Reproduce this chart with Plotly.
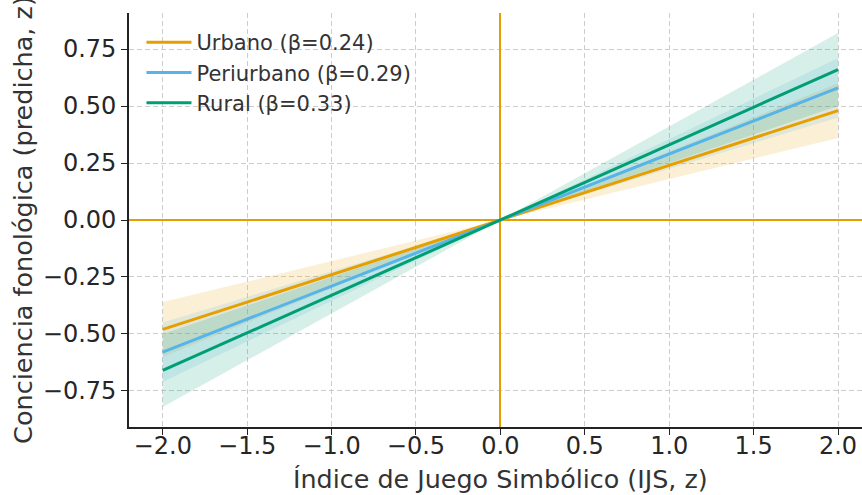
import plotly.graph_objects as go

# Data (predicted values at x = -2, 0, 2)
x_pts = [-2.0, 0.0, 2.0]
groups = ["Urbano (β=0.24)", "Periurbano (β=0.29)", "Rural (β=0.33)"]
urbano_pred = [-0.48, 0.0, 0.48]
urbano_lo = [-0.60, 0.0, 0.36]
urbano_hi = [-0.36, 0.0, 0.60]
peri_pred = [-0.58, 0.0, 0.58]
peri_lo = [-0.71, 0.0, 0.45]
peri_hi = [-0.45, 0.0, 0.71]
rural_pred = [-0.66, 0.0, 0.66]
rural_lo = [-0.82, 0.0, 0.50]
rural_hi = [-0.50, 0.0, 0.82]

x_ticks = [-2.0, -1.5, -1.0, -0.5, 0.0, 0.5, 1.0, 1.5, 2.0]
y_ticks = [-0.75, -0.50, -0.25, 0.0, 0.25, 0.50, 0.75]
x_title = "Índice de Juego Simbólico (IJS, z)"
y_title = "Conciencia fonológica (predicha, z)"

colors = ["#E69F00", "#56B4E9", "#009E73"]
fills = ["rgba(230,159,0,0.16)", "rgba(86,180,233,0.16)", "rgba(0,158,115,0.16)"]

series = [
    (urbano_pred, urbano_lo, urbano_hi),
    (peri_pred, peri_lo, peri_hi),
    (rural_pred, rural_lo, rural_hi),
]

fig = go.Figure()
for name, (pred, lo, hi), c, f in zip(groups, series, colors, fills):
    fig.add_trace(go.Scatter(x=x_pts, y=lo, mode="lines", line=dict(width=0),
                             showlegend=False, hoverinfo="skip"))
    fig.add_trace(go.Scatter(x=x_pts, y=hi, mode="lines", line=dict(width=0),
                             fill="tonexty", fillcolor=f, showlegend=False, hoverinfo="skip"))
for i, (name, (pred, lo, hi), c) in enumerate(zip(groups, series, colors)):
    fig.add_trace(go.Scatter(x=x_pts, y=pred, mode="lines", name=name,
                             legendgroup=f"g{i}",
                             line=dict(color=c, width=3)))

font_fam = "DejaVu Sans"
fig.update_layout(
    width=862, height=495,
    margin=dict(l=129, r=0, t=13, b=68),
    plot_bgcolor="white", paper_bgcolor="white",
    font=dict(family=font_fam, size=24, color="#262626"),
    legend=dict(x=0.017, y=0.978, xanchor="left", yanchor="top",
                bgcolor="rgba(0,0,0,0)", font=dict(size=21, color="#333333"),
                traceorder="normal", tracegroupgap=4, itemwidth=45),
    xaxis=dict(range=[-2.2, 2.142], tickvals=x_ticks, tickformat=".1f",
               automargin=False, ticklabelstandoff=-10,
               showgrid=True, gridcolor="#cccccc", griddash="5px,3px", gridwidth=1,
               zeroline=True, zerolinecolor="#E69F00", zerolinewidth=1.8,
               showline=True, linecolor="#222222", linewidth=1.6,
               ticks="outside", ticklen=6, tickwidth=1.4, tickcolor="#222222"),
    yaxis=dict(range=[-0.908, 0.908], tickvals=y_ticks, tickformat=".2f",
               automargin=False,
               showgrid=True, gridcolor="#cccccc", griddash="5px,3px", gridwidth=1,
               zeroline=True, zerolinecolor="#E69F00", zerolinewidth=1.8,
               showline=True, linecolor="#222222", linewidth=1.6,
               ticks="outside", ticklen=6, tickwidth=1.4, tickcolor="#222222",
               title=dict(text=y_title, standoff=3,
                          font=dict(size=25.5, color="#333333"))),
    annotations=[dict(text=x_title, xref="paper", yref="paper",
                      x=0.5075, y=-0.1244, xanchor="center", yanchor="middle",
                      showarrow=False, font=dict(size=25.4, color="#333333"))],
)

fig.write_html("out.html", config={"displayModeBar": False},
               post_script="document.body.style.margin='0px';")
